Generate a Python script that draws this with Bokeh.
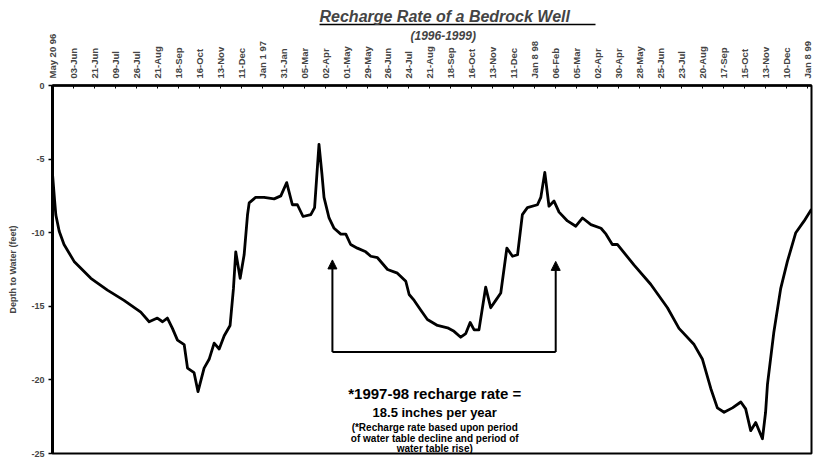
from bokeh.plotting import figure
from bokeh.models import Range1d, FixedTicker, Label, Arrow, NormalHead, Title, LinearAxis
from bokeh.embed import file_html
from bokeh.resources import INLINE

# ---- data ----
date_labels = ["May 20 96", "03-Jun", "21-Jun", "09-Jul", "26-Jul", "21-Aug", "18-Sep",
               "16-Oct", "13-Nov", "11-Dec", "Jan 1 97", "31-Jan", "05-Mar", "02-Apr",
               "01-May", "29-May", "26-Jun", "24-Jul", "21-Aug", "18-Sep", "16-Oct",
               "13-Nov", "11-Dec", "Jan 8 98", "06-Feb", "05-Mar", "02-Apr", "30-Apr",
               "28-May", "25-Jun", "23-Jul", "20-Aug", "17-Sep", "15-Oct", "13-Nov",
               "10-Dec", "Jan 8 99"]

period_index = [0.00, 0.10, 0.16, 0.32, 0.55, 1.03, 1.83, 2.62, 3.41, 4.21, 4.61, 5.00,
                5.25, 5.48, 5.72, 5.96, 6.28, 6.44, 6.75, 6.94, 7.23, 7.47, 7.71, 7.95,
                8.19, 8.47, 8.63, 8.74, 8.95, 9.14, 9.30, 9.38, 9.69, 10.09, 10.57, 10.89,
                11.17, 11.44, 11.68, 11.95, 12.32, 12.50, 12.71, 12.85, 12.95, 13.19, 13.43,
                13.75, 13.99, 14.22, 14.54, 14.94, 15.18, 15.50, 15.98, 16.45, 16.85, 17.01,
                17.25, 17.56, 17.88, 18.36, 18.84, 19.15, 19.47, 19.71, 19.92, 20.11, 20.34,
                20.66, 20.90, 21.14, 21.38, 21.67, 21.94, 22.18, 22.41, 22.65, 23.13, 23.29,
                23.48, 23.68, 23.92, 24.16, 24.56, 24.96, 25.28, 25.68, 26.16, 26.40, 26.70,
                26.94, 27.74, 28.53, 29.33, 29.88, 30.60, 31.00, 31.40, 31.71, 32.03, 32.43,
                32.83, 33.06, 33.30, 33.54, 33.86, 34.01, 34.10, 34.40, 34.73, 35.05, 35.45,
                35.85, 36.20]

depth_ft = [-6.0, -7.8, -8.8, -9.9, -10.8, -11.95, -13.1, -13.9, -14.6, -15.4, -16.05, -15.8,
            -16.05, -15.8, -16.5, -17.3, -17.6, -19.2, -19.5, -20.8, -19.2, -18.6, -17.5, -17.9,
            -17.0, -16.3, -13.8, -11.3, -13.1, -11.5, -8.8, -7.97, -7.6, -7.6, -7.7, -7.5,
            -6.6, -8.1, -8.1, -8.9, -8.77, -8.3, -4.0, -6.0, -7.6, -9.0, -9.7,
            -10.1, -10.1, -10.8, -11.05, -11.3, -11.6, -11.7, -12.5, -12.75, -13.3, -14.2,
            -14.6, -15.25, -15.9, -16.3, -16.46, -16.7, -17.1, -16.85, -16.1, -16.6, -16.6,
            -13.7, -15.1, -14.6, -14.1, -11.05, -11.6, -11.5, -8.77, -8.3, -8.1, -7.6,
            -5.9, -8.2, -7.85, -8.6, -9.2, -9.56, -9.0, -9.45, -9.7, -10.1, -10.8,
            -10.8, -12.2, -13.5, -15.1, -16.5, -17.6, -18.6, -20.6, -21.9, -22.2, -21.9,
            -21.5, -21.97, -23.45, -22.9, -24.0, -22.2, -20.3, -16.8, -13.8, -11.95, -10.0,
            -9.2, -8.4]

depth_ticks = [0, -5, -10, -15, -20, -25]

FONT = "Liberation Sans"

p = figure(width=813, height=467, output_backend="svg", toolbar_location=None,
           x_range=Range1d(0, 36.2), y_range=Range1d(-25, 0),
           x_axis_location="above",
           min_border_left=52, min_border_right=2, min_border_top=85, min_border_bottom=14,
           background_fill_color="white", border_fill_color="white")
p.title.visible = False

p.xgrid.visible = False
p.ygrid.visible = False
p.outline_line_color = "black"
p.outline_line_width = 2

# top (category) axis
xa = p.xaxis[0]
xa.ticker = FixedTicker(ticks=list(range(len(date_labels))))
xa.major_label_overrides = {i: lab for i, lab in enumerate(date_labels)}
xa.major_label_orientation = "vertical"
xa.major_label_text_font = FONT
xa.major_label_text_font_style = "bold"
xa.major_label_text_font_size = "9.5px"
xa.major_label_standoff = 7
xa.major_tick_in = 3
xa.major_tick_out = 0
xa.minor_tick_line_color = None
xa.axis_line_width = 2.5
xa.major_tick_line_width = 1

# left axis
ya = p.yaxis[0]
ya.ticker = FixedTicker(ticks=depth_ticks)
ya.major_label_overrides = {t: str(t) for t in depth_ticks}
ya.major_label_text_font = FONT
ya.major_label_text_font_style = "bold"
ya.major_label_text_font_size = "9px"
ya.major_label_standoff = 4
ya.major_tick_in = 0
ya.major_tick_out = 4
ya.major_tick_line_width = 1.5
ya.minor_tick_line_color = None
ya.axis_line_width = 3
ya.axis_label = "Depth to Water (feet)"
ya.axis_label_text_font = FONT
ya.axis_label_text_font_style = "bold"
ya.axis_label_text_font_size = "9px"
ya.axis_label_standoff = 10

# data line
p.line(period_index, depth_ft, line_color="black", line_width=2.8, line_join="round")

# recharge bracket
head = dict(size=9, fill_color="black", line_color="black")
p.add_layout(Arrow(end=NormalHead(**head), x_start=13.35, y_start=-18.1, x_end=13.35, y_end=-11.85,
                   line_width=2, line_color="black"))
p.add_layout(Arrow(end=NormalHead(**head), x_start=24.0, y_start=-18.1, x_end=24.0, y_end=-11.95,
                   line_width=2, line_color="black"))
p.add_layout(Arrow(end=None, start=None, x_start=13.35, y_start=-18.1, x_end=24.0, y_end=-18.1,
                   line_width=2, line_color="black"))

# annotation text
def add_text(x, y, txt, size, style="bold"):
    p.add_layout(Label(x=x, y=y, text=txt, text_font=FONT, text_font_style=style,
                       text_font_size=size, text_align="center", text_baseline="middle",
                       text_color="black"))

add_text(18.23, -20.92, "*1997-98 recharge rate =", "15px")
add_text(18.23, -22.21, "18.5 inches per year", "13px")
add_text(18.23, -23.23, "(*Recharge rate based upon period", "10px")
add_text(18.23, -23.98, "of water table decline and period of", "10px")
add_text(18.23, -24.66, "water table rise)", "10px")

# titles stacked above the date axis: subtitle (with an empty first line as room), underline, main title
p.add_layout(Title(text="\n(1996-1999)", align="left", offset=358, standoff=-24,
                   text_font=FONT, text_font_size="12px", text_font_style="bold italic"), "above")
underline = LinearAxis(bounds=(12.73, 25.9), ticker=FixedTicker(ticks=[]),
                       major_label_text_font_size="0px", major_label_standoff=0,
                       major_tick_in=0, major_tick_out=0,
                       major_tick_line_color=None, minor_tick_line_color=None,
                       axis_line_width=1.5, axis_line_color="black")
p.add_layout(underline, "above")
p.add_layout(Title(text="Recharge Rate of a Bedrock Well", align="left", offset=267, standoff=0,
                   text_font=FONT, text_font_size="16px", text_font_style="bold italic"), "above")

open("out.html", "w").write(file_html(p, INLINE))
